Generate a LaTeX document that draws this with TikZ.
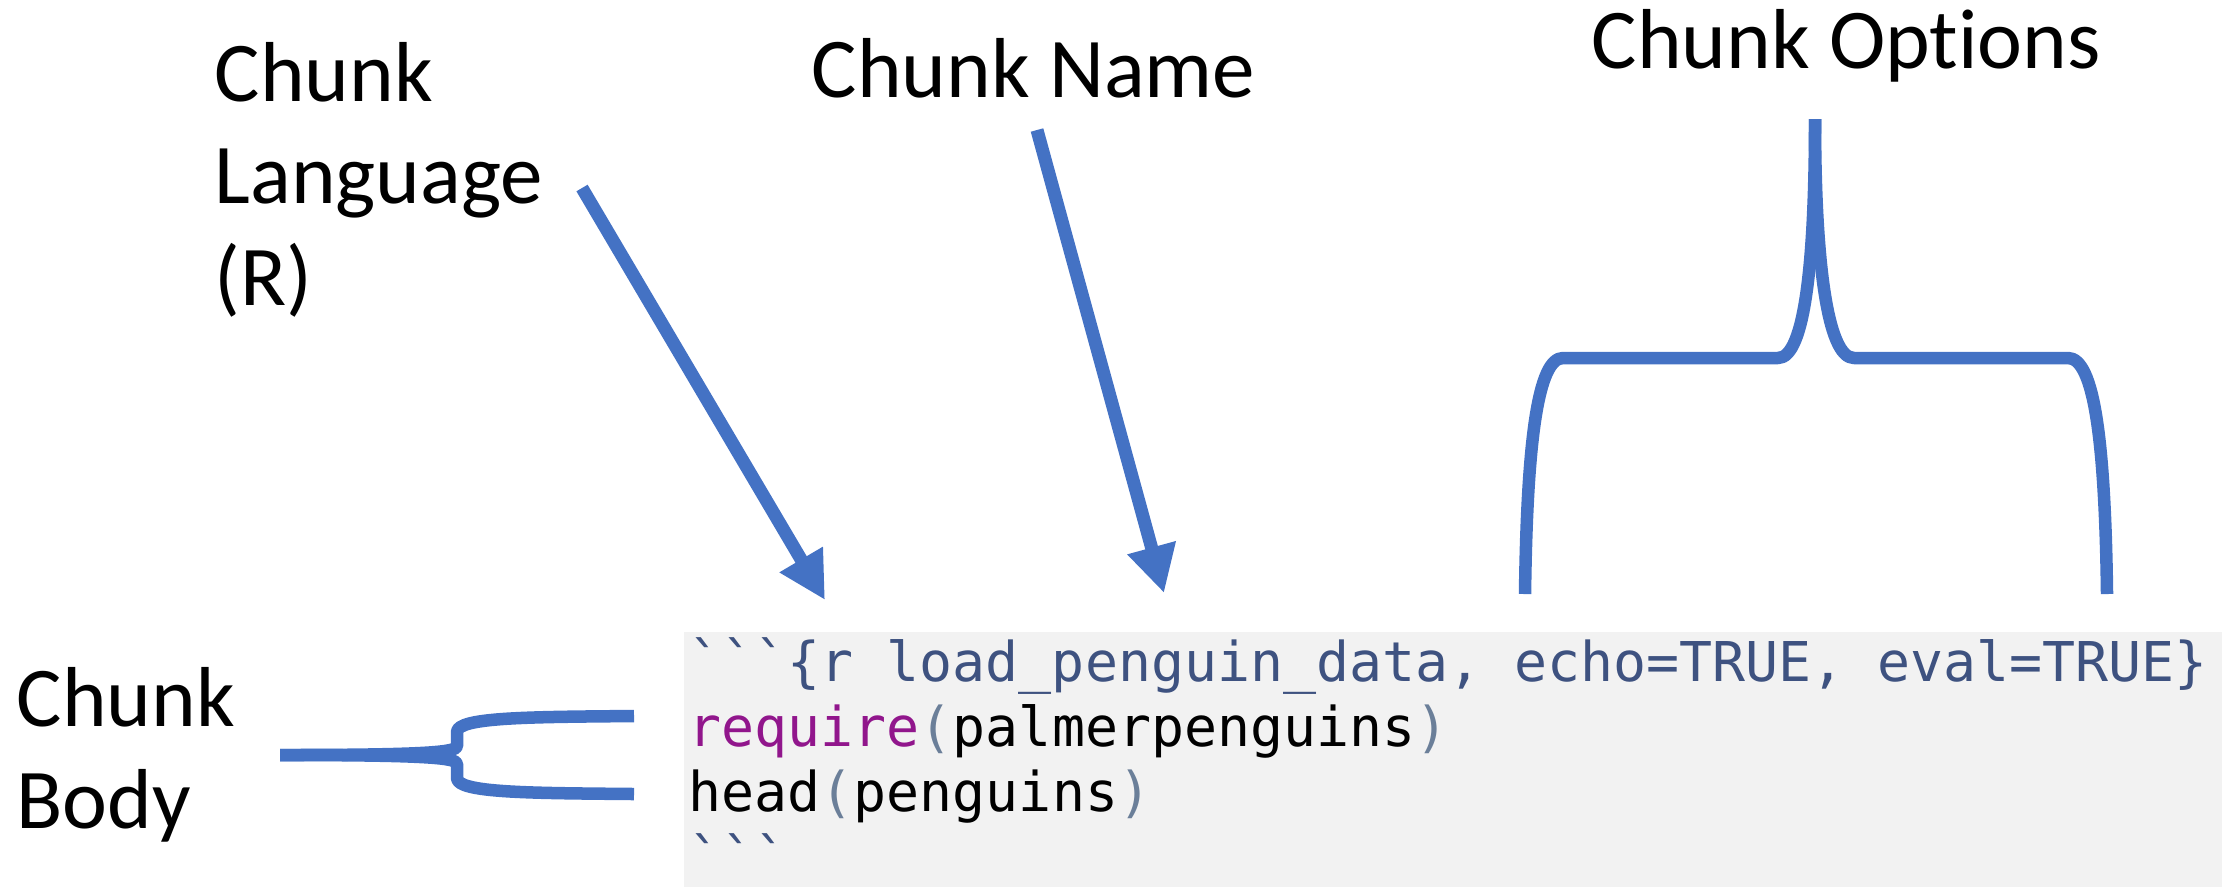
\documentclass[tikz,border=0pt]{standalone}
\usepackage{fontspec}
\setmainfont{Carlito}[Ligatures=NoCommon]
\setmonofont{DejaVu Sans Mono}
\usetikzlibrary{arrows.meta}
\usetikzlibrary{positioning}

\definecolor{offblue}{HTML}{4472C4}
\definecolor{codebg}{HTML}{F2F2F2}
\definecolor{hdrblue}{RGB}{62,82,128}
\definecolor{fnpurple}{RGB}{145,22,140}
\definecolor{parengray}{RGB}{107,127,153}

\tikzset{
  lbl/.style={inner sep=0pt, anchor=base west, align=left,
    font=\fontsize{24.2pt}{29pt}\selectfont},
  codetext/.style={inner sep=0pt, anchor=base west, align=left,
    font=\ttfamily\fontsize{15.6pt}{18.5pt}\selectfont},
  pointer/.style={draw=offblue, line width=0.13cm,
    -{Triangle[length=0.47cm, width=0.47cm]}},
  bracepath/.style={draw=offblue, line width=0.125cm, line join=round}
}

\begin{document}
\begin{tikzpicture}[x=0.01cm, y=-0.01cm]
  \useasboundingbox (0,0) rectangle (2222,887);
  % code chunk (anchored on its last line)
  \fill[codebg] (684,632) rectangle (2222,887);
  \node[codetext] (code) at (688,877)
    {\textcolor{hdrblue}{\symbol{96}\symbol{96}\symbol{96}\{r load\_penguin\_data, echo=TRUE, eval=TRUE\}}\\
     \textcolor{fnpurple}{require}\textcolor{parengray}{(}palmerpenguins\textcolor{parengray}{)}\\
     head\textcolor{parengray}{(}penguins\textcolor{parengray}{)}\\
     \textcolor{hdrblue}{\symbol{96}\symbol{96}\symbol{96}}};

  % labels
  \node[lbl] (langlbl) at (214,305) {Chunk\\Language\\(R)};
  \node[lbl] (namelbl) at (811,97) {Chunk Name};
  \node[lbl] (optlbl) at (1591,68) {Chunk Options};
  \node[lbl] (bodylbl) at (16,828) {Chunk\\Body};

  % arrows
  \coordinate (langtail) at (582,188);
  \coordinate (langhead) at (825,600);
  \coordinate (nametail) at (1037,130);
  \coordinate (namehead) at (1164,593);
  \draw[pointer] (langtail) -- (langhead);
  \draw[pointer] (nametail) -- (namehead);

  % brace over the options
  \coordinate (opttip) at (1815,119);
  \coordinate (optleft) at (1525,594);
  \coordinate (optright) at (2107,594);
  \draw[bracepath] (optleft) .. controls (1527,440) and (1538,358) .. (1563,358)
    -- (1778,358) .. controls (1805,358) and (1815,260) .. (opttip);
  \draw[bracepath] (optright) .. controls (2105,440) and (2094,358) .. (2068,358)
    -- (1854,358) .. controls (1827,358) and (1815,260) .. (opttip);

  % brace beside the body
  \coordinate (bodytip) at (280,755);
  \coordinate (bodytop) at (634,716);
  \coordinate (bodybot) at (634,794);
  \draw[bracepath] (bodytop) .. controls (530,717) and (457,717) .. (457,732)
    -- (457,746) .. controls (457,752) and (430,755) .. (bodytip);
  \draw[bracepath] (bodybot) .. controls (530,793) and (457,793) .. (457,778)
    -- (457,764) .. controls (457,758) and (430,755) .. (bodytip);
\end{tikzpicture}
\end{document}
